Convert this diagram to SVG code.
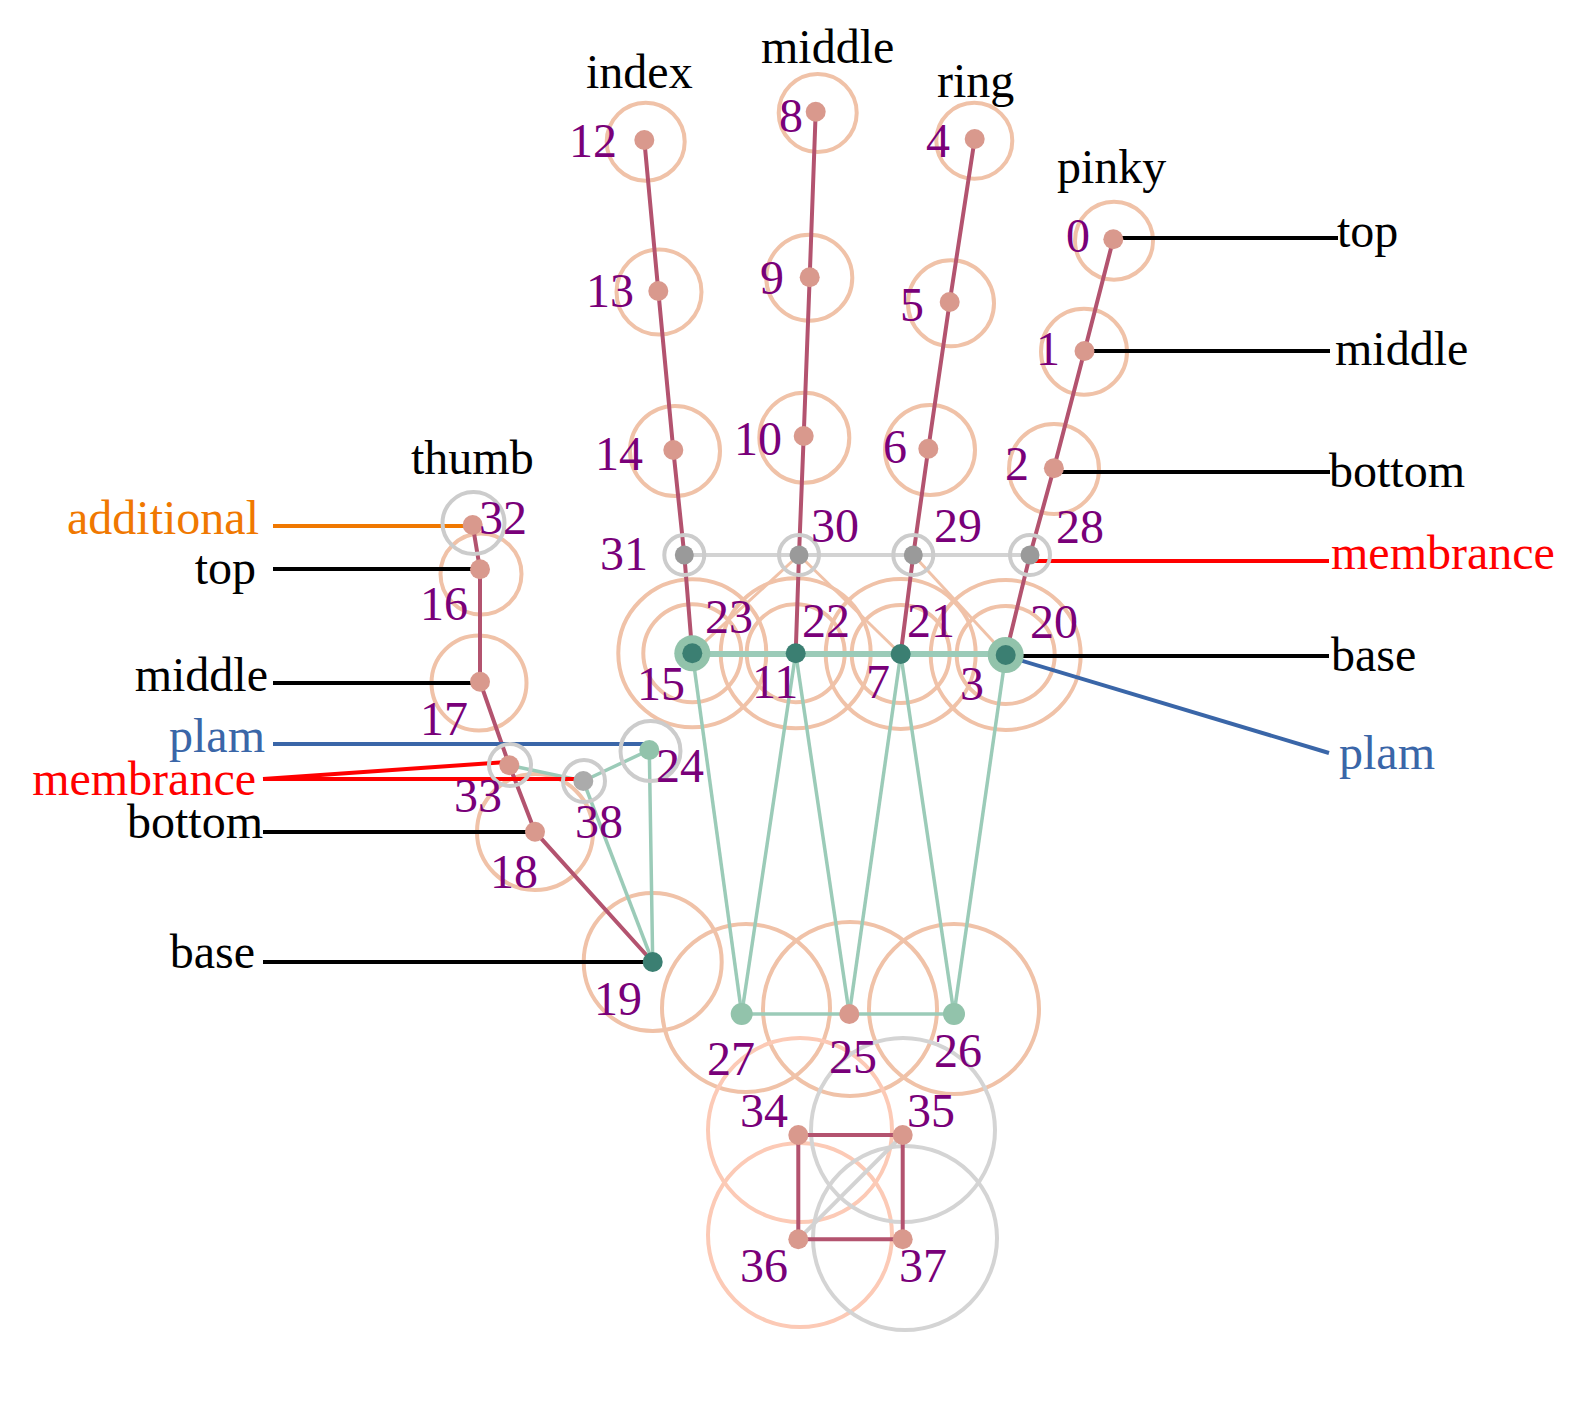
<svg xmlns="http://www.w3.org/2000/svg" width="1595" height="1411" viewBox="0 0 1595 1411">
<style>
.r{fill:none;stroke:#f0c2a8;stroke-width:4}
.rp{fill:none;stroke:#fccab6;stroke-width:4}
.rg{fill:none;stroke:#d4d4d4;stroke-width:4}
.ring{fill:none;stroke:#cccccc;stroke-width:4}
.e{stroke:#b3536f;stroke-width:4;fill:none}
.g{stroke:#9bcbb8;stroke-width:3.5;fill:none}
.gh{stroke:#9bcbb8;stroke-width:6;fill:none}
.gy{stroke:#d3d3d3;stroke-width:4;fill:none}
.sl{stroke:#f0c2a8;stroke-width:3;fill:none}
.k{stroke:#000;stroke-width:4}
.bl{stroke:#3a66a8;stroke-width:4}
.rd{stroke:#ff0000;stroke-width:4}
.or{stroke:#f07800;stroke-width:4}
.d{fill:#d9998d}
.dg{fill:#9a9a9a}
.dg2{fill:#ababab}
.dt{fill:#3b7f72}
.dl{fill:#92c3ab}
.n{font-family:"Liberation Serif",serif;font-size:48px;fill:#790079}
.t{font-family:"Liberation Serif",serif;font-size:48px;fill:#000}
.tr{font-family:"Liberation Serif",serif;font-size:48px;fill:#ff0000}
.tb{font-family:"Liberation Serif",serif;font-size:48px;fill:#3a66a8}
.to{font-family:"Liberation Serif",serif;font-size:48px;fill:#f07800}
</style>

<g id="radii">
<circle class="r" cx="645.7" cy="141.7" r="39"/>
<circle class="r" cx="659" cy="292" r="42.5"/>
<circle class="r" cx="675" cy="451" r="45"/>
<circle class="r" cx="817.7" cy="113" r="39"/>
<circle class="r" cx="809.3" cy="277.7" r="43"/>
<circle class="r" cx="804.3" cy="437.7" r="45"/>
<circle class="r" cx="974.3" cy="140.7" r="38"/>
<circle class="r" cx="951" cy="303.3" r="43"/>
<circle class="r" cx="930" cy="450" r="45"/>
<circle class="r" cx="1114" cy="240.7" r="39"/>
<circle class="r" cx="1084" cy="351.7" r="43"/>
<circle class="r" cx="1054" cy="469" r="45"/>
<circle class="r" cx="481" cy="574" r="40.5"/>
<circle class="r" cx="479" cy="683" r="47.5"/>
<circle class="r" cx="535" cy="832" r="58"/>
<circle class="r" cx="652.7" cy="962" r="69"/>
<circle class="r" cx="692.3" cy="653.3" r="49"/>
<circle class="r" cx="692.3" cy="653.3" r="74"/>
<circle class="r" cx="795.7" cy="653.3" r="49"/>
<circle class="r" cx="795.7" cy="653.3" r="75"/>
<circle class="r" cx="900.7" cy="654" r="49"/>
<circle class="r" cx="900.7" cy="654" r="75"/>
<circle class="r" cx="1005.7" cy="655" r="49"/>
<circle class="r" cx="1005.7" cy="655" r="75"/>
<circle class="r" cx="746" cy="1008" r="84"/>
<circle class="r" cx="850" cy="1009" r="87"/>
<circle class="r" cx="954" cy="1009" r="85"/>
<circle class="rp" cx="800" cy="1130" r="92"/>
<circle class="rp" cx="800" cy="1235" r="92"/>
<circle class="rg" cx="903" cy="1130" r="92"/>
<circle class="rg" cx="905" cy="1238" r="92"/>
</g>

<g id="connectors">
<line class="sl" x1="799" y1="555" x2="692.3" y2="653.3"/>
<line class="sl" x1="799" y1="555" x2="900.7" y2="654"/>
<line class="sl" x1="913.3" y1="555" x2="1005.7" y2="655"/>
<polyline class="gy" points="684.3,555 799,555 913.3,555 1030,555"/>
<line class="gy" x1="798.3" y1="1239.3" x2="902.7" y2="1135"/>
<polyline class="e" points="644.3,140 658.3,291 673.3,450 684.3,555 692.3,653.3"/>
<polyline class="e" points="815.7,111.7 809.7,277.3 803.7,436 799,555 795.7,653.3"/>
<polyline class="e" points="974.7,139 949.7,302 928.3,448.7 913.3,555 900.7,654"/>
<polyline class="e" points="1113.3,239.3 1084.5,351 1053.9,468.3 1030,555 1005.7,655"/>
<polyline class="e" points="472.7,525 480,569.3 480,681.7 509.3,765.3 535,831.7 652.7,962"/>
<polygon class="e" points="798.3,1135 902.7,1135 902.7,1239.3 798.3,1239.3"/>
<line class="gh" x1="692.3" y1="654" x2="1005.7" y2="654"/>
<line class="g" x1="692.3" y1="653.3" x2="741.7" y2="1014"/>
<line class="g" x1="795.7" y1="653.3" x2="741.7" y2="1014"/>
<line class="g" x1="795.7" y1="653.3" x2="849.3" y2="1014"/>
<line class="g" x1="900.7" y1="654" x2="849.3" y2="1014"/>
<line class="g" x1="900.7" y1="654" x2="954" y2="1014"/>
<line class="g" x1="1005.7" y1="655" x2="954" y2="1014"/>
<line class="g" x1="741.7" y1="1014" x2="954" y2="1014"/>
<polyline class="g" points="509.3,765.3 583.3,781 649.3,750 652.7,962"/>
<line class="g" x1="583.3" y1="781" x2="652.7" y2="962"/>
<line class="k" x1="1113" y1="238" x2="1338" y2="238"/>
<line class="k" x1="1084" y1="351" x2="1330" y2="351"/>
<line class="k" x1="1051" y1="472" x2="1330" y2="472"/>
<line class="rd" x1="1031" y1="561" x2="1329" y2="561"/>
<line class="k" x1="1006" y1="656" x2="1329" y2="656"/>
<line class="bl" x1="1006" y1="656" x2="1329" y2="753"/>
<line class="or" x1="273" y1="526" x2="473" y2="526"/>
<line class="k" x1="273" y1="569" x2="480" y2="569"/>
<line class="k" x1="273" y1="683" x2="480" y2="683"/>
<line class="bl" x1="273" y1="744" x2="647" y2="744"/>
<line class="rd" x1="263" y1="779" x2="507" y2="762"/>
<line class="rd" x1="263" y1="779" x2="577" y2="779"/>
<line class="k" x1="263" y1="832" x2="533" y2="832"/>
<line class="k" x1="263" y1="962" x2="647" y2="962"/>
</g>

<g id="n0"><circle class="d" cx="1113.3" cy="239.3" r="10"/><text class="n" x="1066" y="252">0</text></g>
<g id="n1"><circle class="d" cx="1084.5" cy="351" r="10"/><text class="n" x="1036" y="365">1</text></g>
<g id="n2"><circle class="d" cx="1053.9" cy="468.3" r="10"/><text class="n" x="1005" y="480">2</text></g>
<g id="n3"><circle class="dl" cx="1005.7" cy="655" r="18"/><circle class="dt" cx="1005.7" cy="655" r="10"/><text class="n" x="960" y="700">3</text></g>
<g id="n4"><circle class="d" cx="974.7" cy="139" r="10"/><text class="n" x="926" y="157">4</text></g>
<g id="n5"><circle class="d" cx="949.7" cy="302" r="10"/><text class="n" x="900" y="321">5</text></g>
<g id="n6"><circle class="d" cx="928.3" cy="448.7" r="10"/><text class="n" x="883" y="463">6</text></g>
<g id="n7"><circle class="dt" cx="900.7" cy="654" r="10"/><text class="n" x="866" y="698">7</text></g>
<g id="n8"><circle class="d" cx="815.7" cy="111.7" r="10"/><text class="n" x="779" y="132">8</text></g>
<g id="n9"><circle class="d" cx="809.7" cy="277.3" r="10"/><text class="n" x="760" y="294">9</text></g>
<g id="n10"><circle class="d" cx="803.7" cy="436" r="10"/><text class="n" x="734" y="455">10</text></g>
<g id="n11"><circle class="dt" cx="795.7" cy="653.3" r="10"/><text class="n" x="752" y="698">11</text></g>
<g id="n12"><circle class="d" cx="644.3" cy="140" r="10"/><text class="n" x="569" y="157">12</text></g>
<g id="n13"><circle class="d" cx="658.3" cy="291" r="10"/><text class="n" x="586" y="307">13</text></g>
<g id="n14"><circle class="d" cx="673.3" cy="450" r="10"/><text class="n" x="595" y="470">14</text></g>
<g id="n15"><circle class="dl" cx="692.3" cy="653.3" r="18"/><circle class="dt" cx="692.3" cy="653.3" r="10"/><text class="n" x="637" y="700">15</text></g>
<g id="n16"><circle class="d" cx="480" cy="569.3" r="10"/><text class="n" x="420" y="620">16</text></g>
<g id="n17"><circle class="d" cx="480" cy="681.7" r="10"/><text class="n" x="420" y="735">17</text></g>
<g id="n18"><circle class="d" cx="535" cy="831.7" r="10"/><text class="n" x="490" y="888">18</text></g>
<g id="n19"><circle class="dt" cx="652.7" cy="962" r="10"/><text class="n" x="594" y="1015">19</text></g>
<g id="n20"><text class="n" x="1030" y="638">20</text></g>
<g id="n21"><text class="n" x="907" y="637">21</text></g>
<g id="n22"><text class="n" x="802" y="637">22</text></g>
<g id="n23"><text class="n" x="705" y="633">23</text></g>
<g id="n24"><circle class="ring" cx="650.5" cy="751" r="30"/><circle class="dl" cx="649.3" cy="750" r="10"/><text class="n" x="656" y="782">24</text></g>
<g id="n25"><circle class="d" cx="849.3" cy="1014" r="10"/><text class="n" x="829" y="1073">25</text></g>
<g id="n26"><circle class="dl" cx="954" cy="1014" r="11"/><text class="n" x="934" y="1067">26</text></g>
<g id="n27"><circle class="dl" cx="741.7" cy="1014" r="11"/><text class="n" x="707" y="1075">27</text></g>
<g id="n28"><circle class="ring" cx="1030" cy="555" r="20"/><circle class="dg" cx="1030" cy="555" r="9.5"/><text class="n" x="1056" y="543">28</text></g>
<g id="n29"><circle class="ring" cx="913.3" cy="555" r="20"/><circle class="dg" cx="913.3" cy="555" r="9.5"/><text class="n" x="934" y="542">29</text></g>
<g id="n30"><circle class="ring" cx="799" cy="555" r="20"/><circle class="dg" cx="799" cy="555" r="9.5"/><text class="n" x="811" y="542">30</text></g>
<g id="n31"><circle class="ring" cx="684.3" cy="555" r="20"/><circle class="dg" cx="684.3" cy="555" r="9.5"/><text class="n" x="600" y="570">31</text></g>
<g id="n32"><circle class="ring" cx="473.5" cy="523" r="31"/><circle class="d" cx="472.7" cy="525" r="10"/><text class="n" x="479" y="534">32</text></g>
<g id="n33"><circle class="ring" cx="510" cy="765" r="21"/><circle class="d" cx="509.3" cy="765.3" r="10"/><text class="n" x="454" y="812">33</text></g>
<g id="n34"><circle class="d" cx="798.3" cy="1135" r="10"/><text class="n" x="740" y="1127">34</text></g>
<g id="n35"><circle class="d" cx="902.7" cy="1135" r="10"/><text class="n" x="907" y="1127">35</text></g>
<g id="n36"><circle class="d" cx="798.3" cy="1239.3" r="10"/><text class="n" x="740" y="1282">36</text></g>
<g id="n37"><circle class="d" cx="902.7" cy="1239.3" r="10"/><text class="n" x="899" y="1282">37</text></g>
<g id="n38"><circle class="ring" cx="584" cy="781" r="21"/><circle class="dg2" cx="583.3" cy="781" r="10"/><text class="n" x="575" y="838">38</text></g>

<g id="labels">
<text class="t" x="586" y="88">index</text>
<text class="t" x="761" y="63">middle</text>
<text class="t" x="937" y="97">ring</text>
<text class="t" x="1057" y="183">pinky</text>
<text class="t" x="411" y="474">thumb</text>
<text class="t" x="1337" y="247">top</text>
<text class="t" x="1335" y="365">middle</text>
<text class="t" x="1329" y="487">bottom</text>
<text class="tr" x="1331" y="569">membrance</text>
<text class="t" x="1331" y="671">base</text>
<text class="tb" x="1339" y="769">plam</text>
<text class="to" x="259" y="534" text-anchor="end">additional</text>
<text class="t" x="256" y="584" text-anchor="end">top</text>
<text class="t" x="268" y="691" text-anchor="end">middle</text>
<text class="tb" x="265" y="752" text-anchor="end">plam</text>
<text class="tr" x="256" y="795" text-anchor="end">membrance</text>
<text class="t" x="263" y="838" text-anchor="end">bottom</text>
<text class="t" x="255" y="968" text-anchor="end">base</text>
</g>
</svg>
